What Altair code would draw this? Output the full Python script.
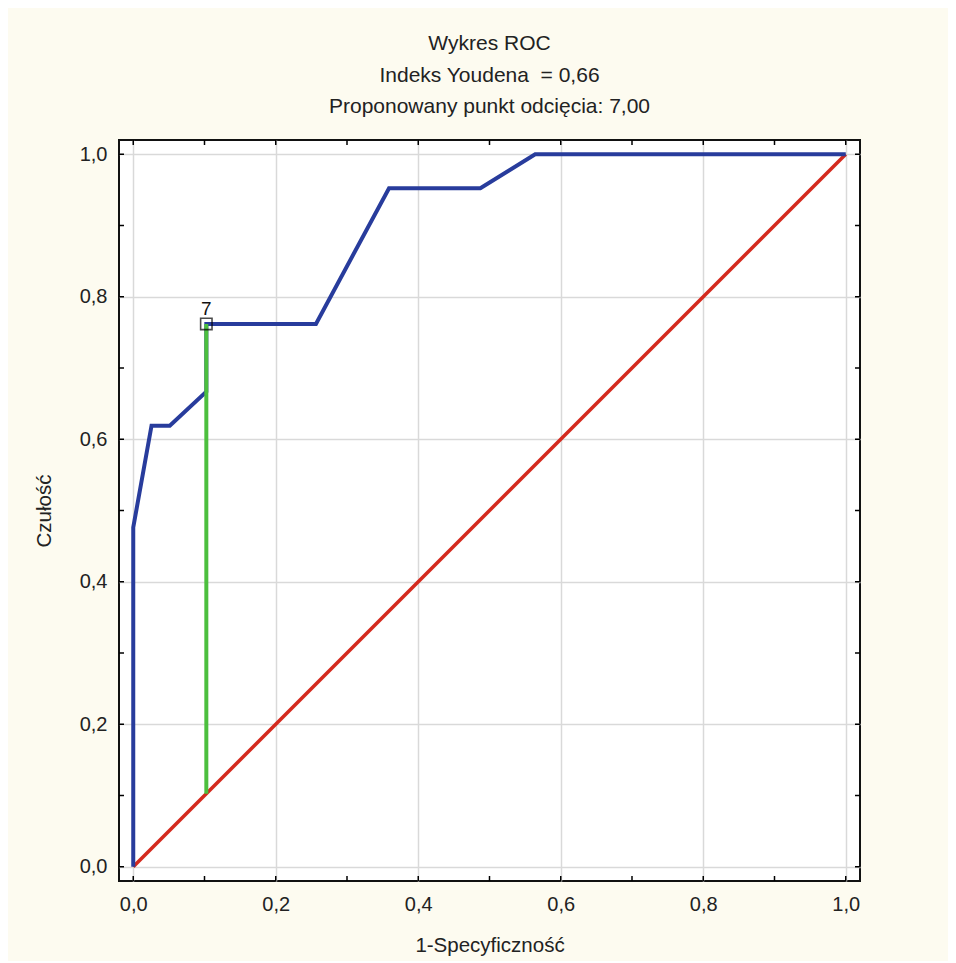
import altair as alt
import pandas as pd

# ROC curve (1-specificity, sensitivity)
roc_x = [0, 0, 1/39, 2/39, 4/39, 4/39, 10/39, 14/39, 19/39, 22/39, 1.0]
roc_y = [0, 10/21, 13/21, 13/21, 14/21, 16/21, 16/21, 20/21, 20/21, 1.0, 1.0]

diag_x = [0.0, 1.0]
diag_y = [0.0, 1.0]

# Youden index segment at the cut-off point
cut_x = 4/39
cut_y_low = 4/39
cut_y_high = 16/21
cut_label = "7"

major_ticks = [0.0, 0.2, 0.4, 0.6, 0.8, 1.0]
all_ticks = [0.0, 0.1, 0.2, 0.3, 0.4, 0.5, 0.6, 0.7, 0.8, 0.9, 1.0]

title_lines = ["Wykres ROC", "Indeks Youdena\u00a0 = 0,66", "Proponowany punkt odcięcia: 7,00"]
x_title = "1-Specyficzność"
y_title = "Czułość"

W = 741
H = 741
FONT = "Liberation Sans"
dom = [-0.02, 1.02]

roc_df = pd.DataFrame({"x": roc_x, "y": roc_y, "o": list(range(len(roc_x)))})
diag_df = pd.DataFrame({"x": diag_x, "y": diag_y})
cut_df = pd.DataFrame({"x": [cut_x], "y": [cut_y_low], "y2": [cut_y_high], "lab": [cut_label]})
tick_df = pd.DataFrame({"v": all_ticks})

label_expr = "replace(format(datum.value, '.1f'), '.', ',')"

xs = alt.Scale(domain=dom, nice=False, zero=False)
ys = alt.Scale(domain=dom, nice=False, zero=False)

x_axis = alt.Axis(values=major_ticks, labelExpr=label_expr, title=x_title, ticks=False, domain=False,
                  grid=True, gridColor="#d9d9d9", gridWidth=1.5, labelFontSize=20, titleFontSize=20.5,
                  labelFont=FONT, titleFont=FONT, labelColor="#222", titleColor="#222",
                  titleFontWeight="normal", labelPadding=13, titlePadding=21, labelFlush=False)
y_axis = alt.Axis(values=major_ticks, labelExpr=label_expr, title=y_title, ticks=False, domain=False,
                  grid=True, gridColor="#d9d9d9", gridWidth=1.5, labelFontSize=20, titleFontSize=20.5,
                  labelFont=FONT, titleFont=FONT, labelColor="#222", titleColor="#222",
                  titleFontWeight="normal", labelPadding=12, titlePadding=25, labelFlush=False)

base_grid = alt.Chart(diag_df).mark_line(opacity=0).encode(
    x=alt.X("x:Q", scale=xs, axis=x_axis),
    y=alt.Y("y:Q", scale=ys, axis=y_axis),
)

diag = alt.Chart(diag_df).mark_line(color="#d42a1e", strokeWidth=3.5, clip=True).encode(
    x=alt.X("x:Q", scale=xs), y=alt.Y("y:Q", scale=ys)
)

roc = alt.Chart(roc_df).mark_line(color="#283c9c", strokeWidth=4, strokeJoin="miter", clip=True).encode(
    x=alt.X("x:Q", scale=xs), y=alt.Y("y:Q", scale=ys), order="o:Q"
)

green = alt.Chart(cut_df).mark_rule(color="#4cbf3e", strokeWidth=4).encode(
    x=alt.X("x:Q", scale=xs), y=alt.Y("y:Q", scale=ys), y2="y2:Q"
)

square = alt.Chart(cut_df).mark_point(shape="square", filled=False, color="black", size=130,
                                      strokeWidth=1.6).encode(
    x=alt.X("x:Q", scale=xs), y=alt.Y("y2:Q", scale=ys)
)

label = alt.Chart(cut_df).mark_text(font=FONT, fontSize=19, color="#111", dy=-15).encode(
    x=alt.X("x:Q", scale=xs), y=alt.Y("y2:Q", scale=ys), text="lab:N"
)

tick_bottom = alt.Chart(tick_df).mark_rule(color="black", strokeWidth=1.5).encode(
    x=alt.X("v:Q", scale=xs), y=alt.value(H), y2=alt.value(H - 5))
tick_top = alt.Chart(tick_df).mark_rule(color="black", strokeWidth=1.5).encode(
    x=alt.X("v:Q", scale=xs), y=alt.value(0), y2=alt.value(5))
tick_left = alt.Chart(tick_df).mark_rule(color="black", strokeWidth=1.5).encode(
    y=alt.Y("v:Q", scale=ys), x=alt.value(0), x2=alt.value(5))
tick_right = alt.Chart(tick_df).mark_rule(color="black", strokeWidth=1.5).encode(
    y=alt.Y("v:Q", scale=ys), x=alt.value(W), x2=alt.value(W - 5))

chart = alt.layer(
    base_grid, tick_bottom, tick_top, tick_left, tick_right, diag, roc, green, square, label
).properties(
    width=W, height=H,
    title=alt.TitleParams(text=title_lines, fontSize=21, fontWeight="normal", font=FONT,
                          color="#222", lineHeight=31.5, anchor="middle", offset=22),
    autosize=alt.AutoSizeParams(type="none"),
    padding={"left": 111, "top": 132, "right": 88, "bottom": 80},
    background="#fdfbf0",
).configure_view(
    fill="white", stroke="#111", strokeWidth=2
)

chart.save("out.html", embed_options={"renderer": "svg", "actions": False})
